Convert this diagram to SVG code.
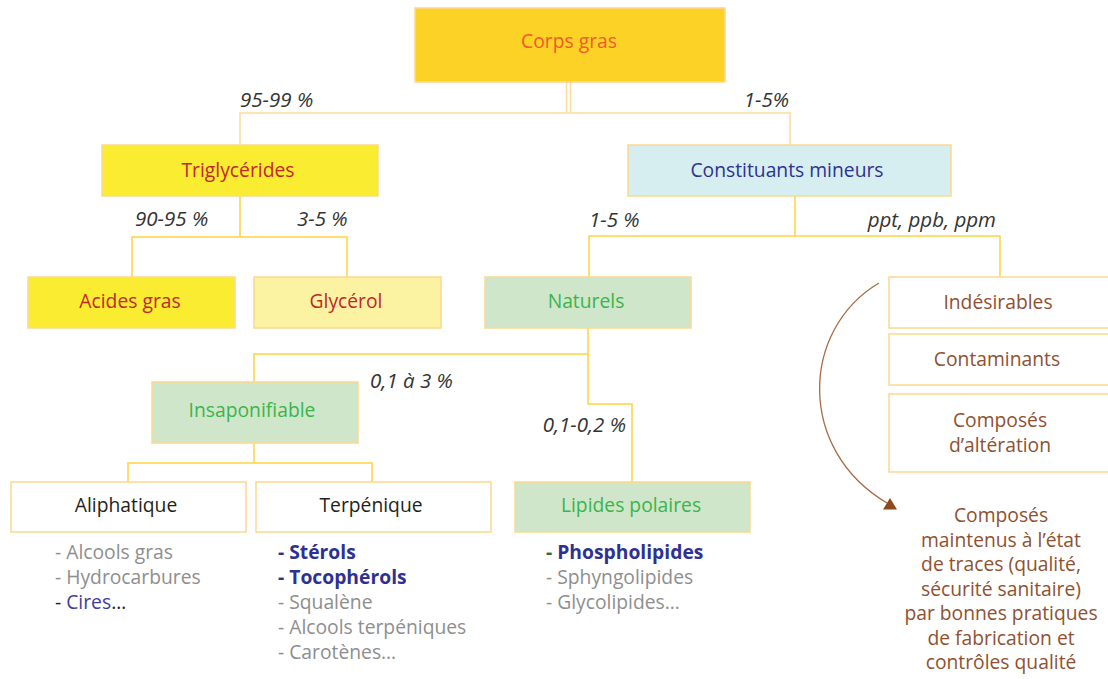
<svg xmlns="http://www.w3.org/2000/svg" width="1108" height="679" viewBox="0 0 1108 679">
<style>
text{font-family:"Open Sans","Liberation Sans",sans-serif;font-size:19.3px}
.c{text-anchor:middle}
.box{stroke:#FBD88F;stroke-width:1.5}
.conn{fill:none;stroke:#FDD33F;stroke-width:1.5}
.pale{fill:none;stroke:#FCDB9C;stroke-width:1.5}
.lbl{font-style:italic;fill:#333333;font-size:20.5px}
.gray{fill:#8E8E8E}
.blueb{fill:#2E3192;font-weight:bold}
.brown{fill:#8F5130}
</style>
<rect width="1108" height="679" fill="#ffffff"/>
<g id="connectors">
<line class="pale" x1="566.5" y1="82" x2="566.5" y2="113"/>
<line class="pale" x1="570.5" y1="82" x2="570.5" y2="113"/>
<polyline class="pale" points="240,145 240,113 790,113 790,145"/>
<line class="conn" x1="240" y1="196" x2="240" y2="237"/>
<polyline class="conn" points="132,277 132,237 347,237 347,277"/>
<line class="conn" x1="795" y1="196" x2="795" y2="236"/>
<polyline class="conn" points="589,277 589,236 1000,236 1000,277"/>
<polyline class="conn" points="588,328 588,354 254,354 254,382"/>
<polyline class="conn" points="588,354 588,404 632,404 632,482"/>
<line class="conn" x1="254" y1="443" x2="254" y2="463"/>
<polyline class="conn" points="128,482 128,463 372,463 372,482"/>
<path d="M879,283 C800,330 797,450 887,503" fill="none" stroke="#A66C45" stroke-width="1.3"/>
<polygon points="883,509.5 897,509.5 890,498" fill="#8E4A1E"/>
</g>
<g id="lbls">
<text class="lbl" x="240" y="107">95-99 %</text>
<text class="lbl" x="789" y="107" text-anchor="end">1-5%</text>
<text class="lbl" x="135" y="226">90-95 %</text>
<text class="lbl" x="297" y="226">3-5 %</text>
<text class="lbl" x="589" y="227">1-5 %</text>
<text class="lbl" x="996" y="227" text-anchor="end">ppt, ppb, ppm</text>
<text class="lbl" x="370" y="388">0,1 à 3 %</text>
<text class="lbl" x="626" y="432" text-anchor="end">0,1-0,2 %</text>
</g>
<g id="corps-gras">
<rect class="box" x="415" y="8" width="310" height="74" fill="#FDD226"/>
<text class="c" x="569" y="48" fill="#F15A29">Corps gras</text>
</g>
<g id="triglycerides">
<rect class="box" x="102" y="145" width="276" height="51" fill="#F9EC31"/>
<text class="c" x="238" y="177" fill="#C1272D">Triglycérides</text>
</g>
<g id="constituants">
<rect class="box" x="628" y="145" width="323" height="51" fill="#D6EEF0"/>
<text class="c" x="787" y="177" fill="#2E3192">Constituants mineurs</text>
</g>
<g id="acides-gras">
<rect class="box" x="28" y="277" width="207" height="51" fill="#F9EC31"/>
<text class="c" x="130" y="308" fill="#C1272D">Acides gras</text>
</g>
<g id="glycerol">
<rect class="box" x="254" y="277" width="187" height="51" fill="#FBF3A2"/>
<text class="c" x="346" y="308" fill="#C1272D">Glycérol</text>
</g>
<g id="naturels">
<rect class="box" x="485" y="277" width="206" height="51" fill="#D0E6CA"/>
<text class="c" x="586" y="308" fill="#39B54A">Naturels</text>
</g>
<g id="indesirables">
<rect class="box" x="889" y="277" width="225" height="51" fill="#ffffff"/>
<text class="c brown" x="998" y="309">Indésirables</text>
</g>
<g id="contaminants">
<rect class="box" x="889" y="334" width="225" height="51" fill="#ffffff"/>
<text class="c brown" x="997" y="366">Contaminants</text>
</g>
<g id="alteration">
<rect class="box" x="889" y="394" width="225" height="78" fill="#ffffff"/>
<text class="c brown" x="1000" y="427">Composés</text>
<text class="c brown" x="1000" y="452">d’altération</text>
</g>
<g id="traces">
<text class="c brown" x="1001" y="522">Composés</text>
<text class="c brown" x="1001" y="546.5">maintenus à l’état</text>
<text class="c brown" x="1001" y="571">de traces (qualité,</text>
<text class="c brown" x="1001" y="595.5">sécurité sanitaire)</text>
<text class="c brown" x="1001" y="620">par bonnes pratiques</text>
<text class="c brown" x="1001" y="644.5">de fabrication et</text>
<text class="c brown" x="1001" y="669">contrôles qualité</text>
</g>
<g id="insaponifiable">
<rect class="box" x="152" y="382" width="206" height="61" fill="#D0E6CA"/>
<text class="c" x="252" y="417" fill="#39B54A">Insaponifiable</text>
</g>
<g id="aliphatique">
<rect class="box" x="11" y="482" width="235" height="50" fill="#ffffff"/>
<text class="c" x="126" y="512" fill="#231F20">Aliphatique</text>
<text x="55" y="559" class="gray">- Alcools gras</text>
<text x="55" y="584" class="gray">- Hydrocarbures</text>
<text x="55" y="609"><tspan fill="#231F20">- </tspan><tspan fill="#3E3E9C">Cires</tspan><tspan fill="#231F20">…</tspan></text>
</g>
<g id="terpenique">
<rect class="box" x="256" y="482" width="235" height="50" fill="#ffffff"/>
<text class="c" x="371" y="512" fill="#231F20">Terpénique</text>
<text x="278" y="559" class="blueb">- Stérols</text>
<text x="278" y="584" class="blueb">- Tocophérols</text>
<text x="278" y="609" class="gray">- Squalène</text>
<text x="278" y="634" class="gray">- Alcools terpéniques</text>
<text x="278" y="659" class="gray">- Carotènes…</text>
</g>
<g id="lipides-polaires">
<rect class="box" x="515" y="482" width="235" height="50" fill="#D0E6CA"/>
<text class="c" x="631" y="512" fill="#39B54A">Lipides polaires</text>
<text x="546" y="559" class="blueb"><tspan fill="#2E6B3A">- </tspan>Phospholipides</text>
<text x="546" y="584" class="gray">- Sphyngolipides</text>
<text x="546" y="609" class="gray">- Glycolipides…</text>
</g>
</svg>
